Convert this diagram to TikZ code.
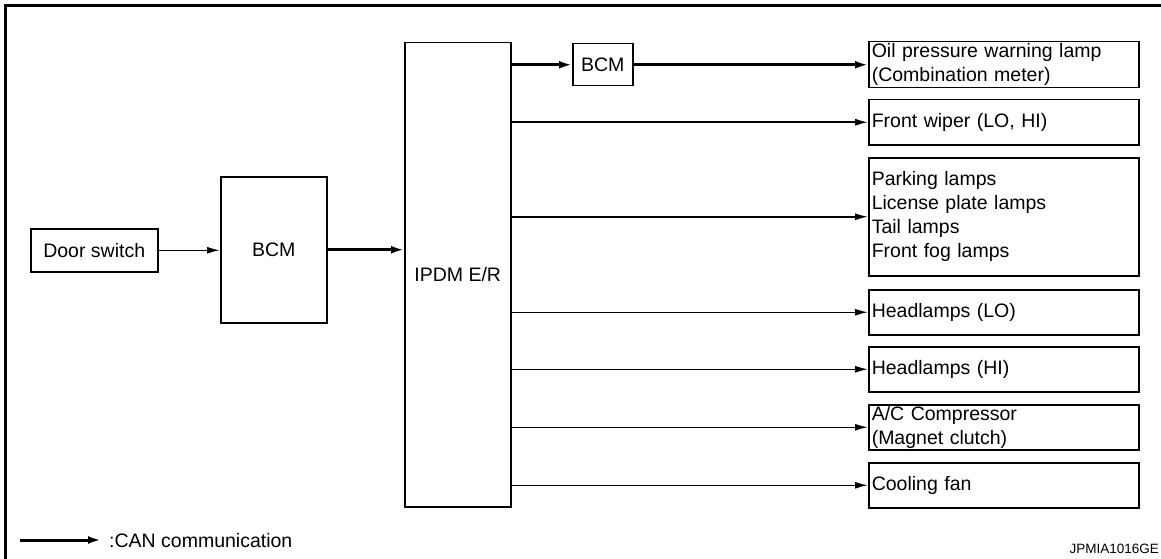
\documentclass[tikz,border=0pt]{standalone}
\usepackage{fontspec}
\setmainfont{Liberation Sans}
\usetikzlibrary{arrows.meta}
\begin{document}
\begin{tikzpicture}[x=1pt,y=-1pt,
  txt/.style={font=\fontsize{19.5}{24}\selectfont},
  box/.style={draw, line width=1.5pt, inner sep=0pt, txt, anchor=north west},
  tbox/.style={box, minimum width=270pt, inner xsep=3pt, text width=264pt, align=left},
  thinarrow/.style={line width=1.5pt, -{Latex[length=13pt,width=7pt]}},
  can/.style={line width=3pt, -{Latex[length=13pt,width=8pt]}},
  frame/.style={line width=3pt}
]
\useasboundingbox (0,0) rectangle (1161,559);
% frame
\draw[frame] (5.5,559) -- (5.5,5.5) -- (1161,5.5);

% left side
\node[box, minimum width=127pt, minimum height=43pt] (door) at (30,228) {Door switch};
\node[box, minimum width=106pt, minimum height=146pt] (bcm) at (220,176) {BCM};
\node[box, minimum width=106pt, minimum height=464pt] (ipdm) at (404,42) {IPDM E/R};
\node[box, minimum width=60pt, minimum height=42pt] (bcm2) at (572,43) {BCM};

% right side targets
\node[tbox, minimum height=46pt] (t1) at (868,41) {Oil pressure warning lamp\\(Combination meter)};
\node[tbox, minimum height=45pt] (t2) at (868,99) {Front wiper (LO, HI)};
\node[tbox, minimum height=118pt] (t3) at (868,157) {Parking lamps\\License plate lamps\\Tail lamps\\Front fog lamps};
\node[tbox, minimum height=45pt] (t4) at (868,289) {Headlamps (LO)};
\node[tbox, minimum height=45pt] (t5) at (868,346) {Headlamps (HI)};
\node[tbox, minimum height=45pt] (t6) at (868,404) {A/C Compressor\\(Magnet clutch)};
\node[tbox, minimum height=45pt] (t7) at (868,462) {Cooling fan};

% connectors
\draw[thinarrow] (door.east) -- (bcm.west |- door.east);
\draw[can] (bcm.east) -- (ipdm.west |- bcm.east);
\draw[can] (ipdm.east |- bcm2.west) -- (bcm2.west);
\draw[can] (bcm2.east) -- (t1.west |- bcm2.east);
\foreach \t in {t2,t3,t4,t5,t6,t7}
  \draw[thinarrow] (ipdm.east |- \t.west) -- (\t.west);

% legend
\coordinate (lgA) at (20,540);
\coordinate (lgB) at (101,540);
\draw[can] (lgA) -- (lgB);
\node[txt, anchor=west, inner sep=0pt] (lgT) at (109,541) {:CAN communication};
\node[anchor=east, inner sep=0pt, font=\fontsize{13.5}{16}\selectfont] (code) at (1159,549) {JPMIA1016GE};
\end{tikzpicture}
\end{document}
